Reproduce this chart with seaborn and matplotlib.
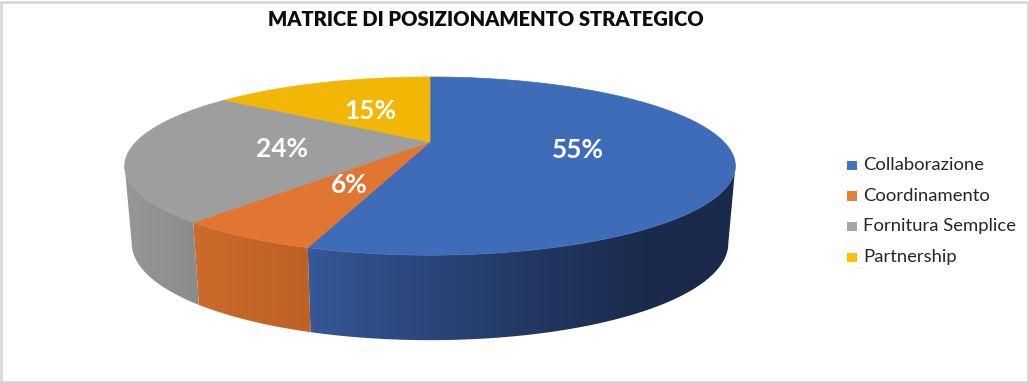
import numpy as np
import matplotlib
matplotlib.use("Agg")
import matplotlib.pyplot as plt
import seaborn as sns
from matplotlib.patches import Polygon, Rectangle
from matplotlib.colors import to_rgb

# ---------------- data ----------------
categories = ["Collaborazione", "Coordinamento", "Fornitura Semplice", "Partnership"]
values = [55, 6, 24, 15]
title = "MATRICE DI POSIZIONAMENTO STRATEGICO"

# ---------------- styles ----------------
legend_colors = ["#4472C4", "#ED7D31", "#A5A5A5", "#FFC000"]
top_colors = ["#3F6CB9", "#E07632", "#9E9E9E", "#F2B705"]
side_left = ["#36599A", "#CC6B2B", "#979797", "#D9A300"]
side_right = ["#1A2A4B", "#BE6126", "#8B8B8B", "#C99500"]

W, H = 1029, 383
sns.set_theme(style="white")
plt.rcParams['font.family'] = ['Lato', 'DejaVu Sans']

fig = plt.figure(figsize=(W / 100, H / 100), dpi=100)
ax = fig.add_axes([0, 0, 1, 1])
ax.axis('off')

# perspective pie geometry (pixels)
CX, CY = 430, 142
A, B, K = 294, 82.6, 0.27
SX = 0.977


def top_pt(theta, r=1.0):
    t = np.radians(theta)
    u, v = r * np.sin(t), r * np.cos(t)
    w = 1 + K * v
    return CX + A * u / w, CY - B * v / w


def bottom_pt(theta):
    x, y = top_pt(theta)
    v = np.cos(np.radians(theta))
    return CX + SX * (x - CX), y + 74 - 11 * v


total = float(sum(values))
angles = np.concatenate([[0], np.cumsum(values) / total * 360.0])

# ---- sides (gradient images clipped to side outline) ----
for i in range(len(values)):
    th = np.linspace(angles[i], angles[i + 1], 600)
    xt, yt = top_pt(th)
    front = np.zeros(len(th), bool)
    front[:-1] = np.diff(xt) < 0
    front[1:] |= front[:-1]
    if front.sum() < 2:
        continue
    tv = th[front]
    xt, yt = top_pt(tv)
    xb, yb = bottom_pt(tv)
    pts = list(zip(xt, yt)) + list(zip(xb[::-1], yb[::-1]))
    poly = Polygon(pts, closed=True, facecolor='none', edgecolor='none')
    ax.add_patch(poly)
    x0, x1 = min(xt.min(), xb.min()), max(xt.max(), xb.max())
    y0, y1 = yt.min(), yb.max()
    gx = np.linspace(0, 1, 256)
    if i == 0:
        gx = np.clip(gx * 1.25, 0, 1) ** 0.85
    c0, c1 = np.array(to_rgb(side_left[i])), np.array(to_rgb(side_right[i]))
    img = (c0[None, :] + (c1 - c0)[None, :] * gx[:, None])[None, :, :]
    im = ax.imshow(img, extent=(x0 - 1, x1 + 1, y1 + 1, y0 - 1), aspect='auto',
                   interpolation='bilinear', zorder=1)
    im.set_clip_path(poly)

# ---- top faces ----
for i in range(len(values)):
    th = np.linspace(angles[i], angles[i + 1], 300)
    xt, yt = top_pt(th)
    pts = [(CX, CY)] + list(zip(xt, yt))
    ax.add_patch(Polygon(pts, closed=True, facecolor=top_colors[i],
                         edgecolor=top_colors[i], lw=0.5, zorder=2))

ax.set_xlim(0, W)
ax.set_ylim(H, 0)


def fit_size(text, target_px, weight='normal', base=20.0):
    t = fig.text(0, 0, text, fontsize=base, fontweight=weight)
    r = fig.canvas.get_renderer()
    w = t.get_window_extent(r).width
    t.remove()
    return base * target_px / w


# ---- percentage labels ----
lab_size = fit_size("55%", 52, 'bold')
for i, v in enumerate(values):
    mid = 0.5 * (angles[i] + angles[i + 1])
    x, y = top_pt(mid, 0.5)
    ax.text(x, y + 1.5, f"{v}%", ha='center', va='center', color='white',
            fontsize=lab_size, fontweight='bold', zorder=5)

# ---- title ----
ax.text(486, 26, title, ha='center', va='baseline', color='#0D0D0D',
        fontsize=fit_size(title, 438, 'heavy'), fontweight='heavy', zorder=5)

# ---- legend ----
leg_size = fit_size("Fornitura Semplice", 153)
for i, cat in enumerate(categories):
    yc = 165 + i * 30.7
    ax.add_patch(Rectangle((847, yc - 4.5), 9.5, 9.5, facecolor=legend_colors[i],
                           edgecolor='none', zorder=5))
    ax.text(863, yc, cat, ha='left', va='center', color='#262626',
            fontsize=leg_size, zorder=5)

# ---- chart border ----
fig.patches.append(Rectangle((1, 1), W - 2.5, H - 2.5, transform=None, fill=False,
                             edgecolor='#D4D4D4', lw=1.8))

fig.savefig("out.png", dpi=100)
